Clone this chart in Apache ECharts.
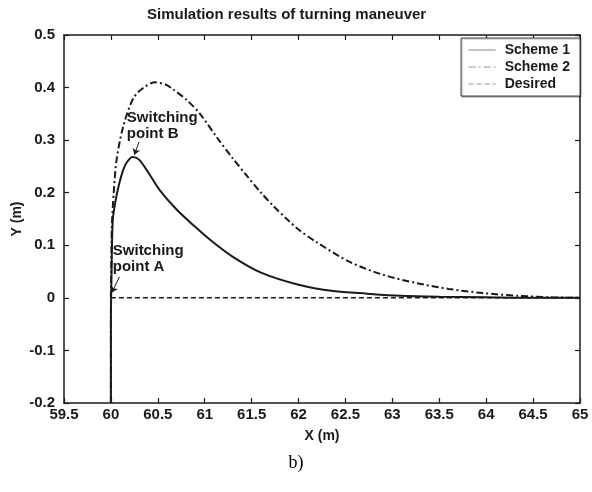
<!DOCTYPE html>
<html>
<head>
<meta charset="utf-8">
<script src="https://cdn.jsdelivr.net/npm/echarts@6/dist/echarts.min.js"></script>
<style>
html,body{margin:0;padding:0;background:#fff;}
#chart{width:592px;height:492px;}
</style>
</head>
<body>
<div id="chart"></div>
<script>
// ---- data ----
const scheme1X = [60, 60, 60.005, 60.02, 60.05, 60.08, 60.13, 60.17, 60.23, 60.3, 60.4, 60.52, 60.7, 60.88, 61.06, 61.3, 61.6, 62.0, 62.37, 62.73, 63.08, 63.5, 64, 64.5, 65];
const scheme1Y = [-0.2, -0.05, 0.03, 0.148, 0.185, 0.211, 0.243, 0.258, 0.268, 0.263, 0.238, 0.205, 0.168, 0.138, 0.11, 0.078, 0.048, 0.025, 0.013, 0.008, 0.004, 0.002, 0.001, 0, 0];
const scheme2X = [60, 60, 60.005, 60.01, 60.03, 60.06, 60.13, 60.24, 60.35, 60.47, 60.58, 60.66, 60.81, 60.95, 61.13, 61.3, 61.45, 61.6, 61.73, 61.88, 62.0, 62.2, 62.55, 62.9, 63.26, 63.6, 63.97, 64.33, 64.7, 65];
const scheme2Y = [-0.2, 0.0, 0.07, 0.135, 0.2, 0.262, 0.325, 0.38, 0.4, 0.41, 0.406, 0.397, 0.376, 0.35, 0.305, 0.265, 0.232, 0.2, 0.175, 0.149, 0.13, 0.105, 0.068, 0.044, 0.028, 0.017, 0.009, 0.004, 0.001, 0];
const desiredX = [60, 65];
const desiredY = [0, 0];
const seriesNames = ['Scheme 1', 'Scheme 2', 'Desired'];
const titleText = 'Simulation results of turning maneuver';
const xName = 'X (m)';
const yName = 'Y (m)';
const captionText = 'b)';
const noteTexts = ['Switching\npoint A', 'Switching\npoint B'];
const noteAnchors = [[60.02, 0.105], [60.17, 0.357]];
const arrowFrom = [[60.09, 0.04], [60.3, 0.297]];
const arrowTo = [[60.01, 0.01], [60.25, 0.272]];

const zip = (xs, ys) => xs.map((x, i) => [x, ys[i]]);
const FONT = '"Liberation Sans", Arial, sans-serif';
const INK = '#1a1a1a';

const chart = echarts.init(document.getElementById('chart'), null, {renderer: 'canvas'});

const axisCommon = {
  axisLine: {show: true, onZero: false, lineStyle: {color: INK, width: 1.5}},
  axisTick: {show: true, inside: true, length: 5, lineStyle: {color: INK, width: 1.2}},
  splitLine: {show: false}
};

const option = {
  animation: false,
  backgroundColor: '#fff',
  color: [INK, INK, INK],
  title: [
    {text: titleText, left: 142, top: 2,
     textStyle: {fontFamily: FONT, fontSize: 15, fontWeight: 'bold', color: INK}},
    {text: captionText, left: 'center', top: 449,
     textStyle: {fontFamily: '"Liberation Serif", "DejaVu Serif", serif', fontSize: 18, fontWeight: 'normal', color: '#000'}}
  ],
  grid: {left: 64, right: 12, top: 35, bottom: 89, containLabel: false, outerBoundsMode: 'none'},
  legend: {
    data: seriesNames,
    orient: 'vertical',
    right: 12, top: 38,
    itemWidth: 27, itemHeight: 14, itemGap: 3,
    padding: [5, 10, 5, 7],
    backgroundColor: '#fff',
    borderColor: '#444', borderWidth: 1,
    shadowColor: 'rgba(0,0,0,0.35)', shadowOffsetX: 1, shadowOffsetY: 1, shadowBlur: 1,
    itemStyle: {opacity: 0},
    lineStyle: {color: '#999', width: 1.2},
    textStyle: {fontFamily: FONT, fontSize: 14, fontWeight: 'bold', color: INK, padding: [0, 0, 0, 4]}
  },
  xAxis: [
    Object.assign({type: 'value', position: 'bottom', min: 59.5, max: 65, interval: 0.5,
      name: xName, nameLocation: 'middle', nameGap: 26, nameMoveOverlap: false,
      nameTextStyle: {fontFamily: FONT, fontSize: 14, fontWeight: 'bold', color: INK},
      axisLabel: {fontFamily: FONT, fontSize: 15, fontWeight: 'bold', color: INK, margin: 4}}, axisCommon),
    Object.assign({type: 'value', position: 'top', min: 59.5, max: 65, interval: 0.5,
      axisLabel: {show: false}}, axisCommon)
  ],
  yAxis: [
    Object.assign({type: 'value', position: 'left', min: -0.2, max: 0.5, interval: 0.1,
      name: yName, nameLocation: 'middle', nameGap: 40, nameRotate: 90, nameMoveOverlap: false,
      nameTextStyle: {fontFamily: FONT, fontSize: 14, fontWeight: 'bold', color: INK},
      axisLabel: {fontFamily: FONT, fontSize: 15, fontWeight: 'bold', color: INK, margin: 9,
        formatter: v => String(Math.round(v * 10) / 10)}}, axisCommon),
    Object.assign({type: 'value', position: 'right', min: -0.2, max: 0.5, interval: 0.1,
      axisLabel: {show: false}}, axisCommon)
  ],
  series: [
    {
      name: seriesNames[0], type: 'line', xAxisIndex: 0, yAxisIndex: 0,
      data: zip(scheme1X, scheme1Y), symbol: 'none', z: 4, smooth: 0.3,
      itemStyle: {color: INK},
      lineStyle: {color: INK, width: 2, type: 'solid'},
      markPoint: {
        symbol: 'circle', symbolSize: 0, silent: true,
        label: {show: true, position: [0, 0], align: 'left', verticalAlign: 'top',
          formatter: p => p.name, fontFamily: FONT, fontSize: 15, fontWeight: 'bold',
          lineHeight: 16, color: INK},
        data: noteTexts.map((t, i) => ({name: t, coord: noteAnchors[i]}))
      },
      markLine: {
        silent: true, symbol: ['none', 'arrow'], symbolSize: 6,
        lineStyle: {color: INK, width: 1, type: 'solid'},
        label: {show: false},
        data: arrowFrom.map((f, i) => [{coord: f}, {coord: arrowTo[i]}])
      }
    },
    {
      name: seriesNames[1], type: 'line', xAxisIndex: 0, yAxisIndex: 0,
      data: zip(scheme2X, scheme2Y), symbol: 'none', z: 3, smooth: 0.3,
      itemStyle: {color: INK},
      lineStyle: {color: INK, width: 2, type: [7, 3, 2, 3]}
    },
    {
      name: seriesNames[2], type: 'line', xAxisIndex: 0, yAxisIndex: 0,
      data: zip(desiredX, desiredY), symbol: 'none', z: 2,
      itemStyle: {color: INK},
      lineStyle: {color: INK, width: 1.5, type: [5, 3]}
    }
  ]
};
chart.setOption(option);
</script>
</body>
</html>
